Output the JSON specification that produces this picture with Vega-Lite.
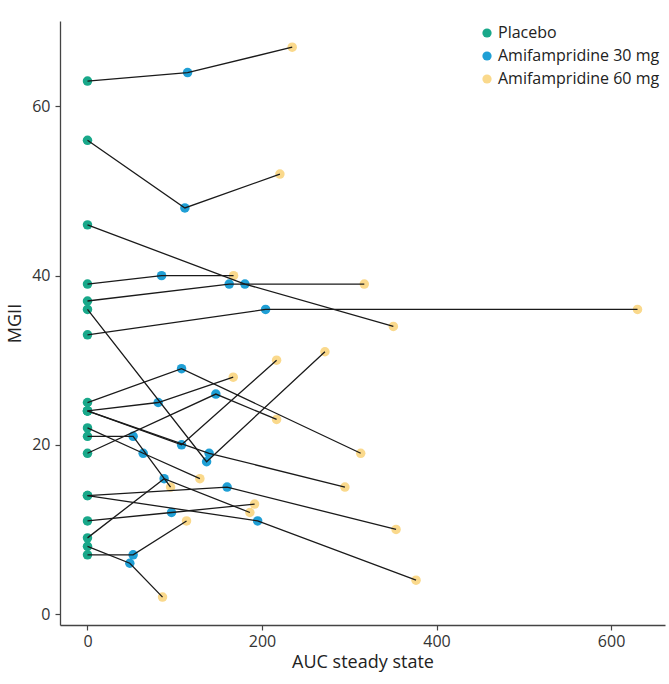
{
  "$schema": "https://vega.github.io/schema/vega-lite/v6.json",
  "width": 605,
  "height": 604,
  "autosize": {"type": "none"},
  "padding": {"left": 60, "top": 21, "right": 4, "bottom": 59},
  "background": "white",
  "config": {
    "view": {"stroke": null},
    "font": "Open Sans",
    "axis": {
      "domainColor": "#444",
      "domainWidth": 1.3,
      "tickColor": "#444",
      "tickSize": 5,
      "tickWidth": 1.2,
      "labelColor": "#333",
      "labelFontSize": 16,
      "labelFont": "Open Sans",
      "titleFont": "Open Sans",
      "titleFontSize": 18,
      "titleFontWeight": "normal",
      "titleColor": "#222",
      "grid": false
    }
  },
  "data": {
    "values": [
      {"patient": "A", "dose": "Placebo", "ord": 0, "auc": 0, "mgii": 63},
      {"patient": "A", "dose": "Amifampridine 30 mg", "ord": 1, "auc": 114.7, "mgii": 64},
      {"patient": "A", "dose": "Amifampridine 60 mg", "ord": 2, "auc": 234.6, "mgii": 67},
      {"patient": "B", "dose": "Placebo", "ord": 0, "auc": 0, "mgii": 56},
      {"patient": "B", "dose": "Amifampridine 30 mg", "ord": 1, "auc": 111.6, "mgii": 48},
      {"patient": "B", "dose": "Amifampridine 60 mg", "ord": 2, "auc": 220.5, "mgii": 52},
      {"patient": "C", "dose": "Placebo", "ord": 0, "auc": 0, "mgii": 46},
      {"patient": "C", "dose": "Amifampridine 30 mg", "ord": 1, "auc": 180.4, "mgii": 39},
      {"patient": "C", "dose": "Amifampridine 60 mg", "ord": 2, "auc": 350.5, "mgii": 34},
      {"patient": "D", "dose": "Placebo", "ord": 0, "auc": 0, "mgii": 39},
      {"patient": "D", "dose": "Amifampridine 30 mg", "ord": 1, "auc": 84.9, "mgii": 40},
      {"patient": "D", "dose": "Amifampridine 60 mg", "ord": 2, "auc": 167.4, "mgii": 40},
      {"patient": "E", "dose": "Placebo", "ord": 0, "auc": 0, "mgii": 37},
      {"patient": "E", "dose": "Amifampridine 30 mg", "ord": 1, "auc": 162.4, "mgii": 39},
      {"patient": "E", "dose": "Amifampridine 60 mg", "ord": 2, "auc": 317.2, "mgii": 39},
      {"patient": "F", "dose": "Placebo", "ord": 0, "auc": 0, "mgii": 36},
      {"patient": "F", "dose": "Amifampridine 30 mg", "ord": 1, "auc": 136.5, "mgii": 18},
      {"patient": "F", "dose": "Amifampridine 60 mg", "ord": 2, "auc": 272.1, "mgii": 31},
      {"patient": "G", "dose": "Placebo", "ord": 0, "auc": 0, "mgii": 33},
      {"patient": "G", "dose": "Amifampridine 30 mg", "ord": 1, "auc": 204.1, "mgii": 36},
      {"patient": "G", "dose": "Amifampridine 60 mg", "ord": 2, "auc": 630.3, "mgii": 36},
      {"patient": "H", "dose": "Placebo", "ord": 0, "auc": 0, "mgii": 25},
      {"patient": "H", "dose": "Amifampridine 30 mg", "ord": 1, "auc": 107.8, "mgii": 29},
      {"patient": "H", "dose": "Amifampridine 60 mg", "ord": 2, "auc": 313.1, "mgii": 19},
      {"patient": "I", "dose": "Placebo", "ord": 0, "auc": 0, "mgii": 24},
      {"patient": "I", "dose": "Amifampridine 30 mg", "ord": 1, "auc": 81, "mgii": 25},
      {"patient": "I", "dose": "Amifampridine 60 mg", "ord": 2, "auc": 167, "mgii": 28},
      {"patient": "J", "dose": "Placebo", "ord": 0, "auc": 0, "mgii": 19},
      {"patient": "J", "dose": "Amifampridine 30 mg", "ord": 1, "auc": 147.1, "mgii": 26},
      {"patient": "J", "dose": "Amifampridine 60 mg", "ord": 2, "auc": 216.7, "mgii": 23},
      {"patient": "K", "dose": "Placebo", "ord": 0, "auc": 0, "mgii": 24},
      {"patient": "K", "dose": "Amifampridine 30 mg", "ord": 1, "auc": 107.8, "mgii": 20},
      {"patient": "K", "dose": "Amifampridine 60 mg", "ord": 2, "auc": 216.7, "mgii": 30},
      {"patient": "L", "dose": "Placebo", "ord": 0, "auc": 0, "mgii": 24},
      {"patient": "L", "dose": "Amifampridine 30 mg", "ord": 1, "auc": 139.4, "mgii": 19},
      {"patient": "L", "dose": "Amifampridine 60 mg", "ord": 2, "auc": 295, "mgii": 15},
      {"patient": "M", "dose": "Placebo", "ord": 0, "auc": 0, "mgii": 22},
      {"patient": "M", "dose": "Amifampridine 30 mg", "ord": 1, "auc": 63.8, "mgii": 19},
      {"patient": "M", "dose": "Amifampridine 60 mg", "ord": 2, "auc": 128.8, "mgii": 16},
      {"patient": "N", "dose": "Placebo", "ord": 0, "auc": 0, "mgii": 21},
      {"patient": "N", "dose": "Amifampridine 30 mg", "ord": 1, "auc": 52.3, "mgii": 21},
      {"patient": "N", "dose": "Amifampridine 60 mg", "ord": 2, "auc": 95.2, "mgii": 15},
      {"patient": "O", "dose": "Placebo", "ord": 0, "auc": 0, "mgii": 14},
      {"patient": "O", "dose": "Amifampridine 30 mg", "ord": 1, "auc": 160, "mgii": 15},
      {"patient": "O", "dose": "Amifampridine 60 mg", "ord": 2, "auc": 353.6, "mgii": 10},
      {"patient": "P", "dose": "Placebo", "ord": 0, "auc": 0, "mgii": 14},
      {"patient": "P", "dose": "Amifampridine 30 mg", "ord": 1, "auc": 195, "mgii": 11},
      {"patient": "P", "dose": "Amifampridine 60 mg", "ord": 2, "auc": 376.5, "mgii": 4},
      {"patient": "Q", "dose": "Placebo", "ord": 0, "auc": 0, "mgii": 11},
      {"patient": "Q", "dose": "Amifampridine 30 mg", "ord": 1, "auc": 96.3, "mgii": 12},
      {"patient": "Q", "dose": "Amifampridine 60 mg", "ord": 2, "auc": 191.5, "mgii": 13},
      {"patient": "R", "dose": "Placebo", "ord": 0, "auc": 0, "mgii": 9},
      {"patient": "R", "dose": "Amifampridine 30 mg", "ord": 1, "auc": 87.8, "mgii": 16},
      {"patient": "R", "dose": "Amifampridine 60 mg", "ord": 2, "auc": 186.1, "mgii": 12},
      {"patient": "S", "dose": "Placebo", "ord": 0, "auc": 0, "mgii": 8},
      {"patient": "S", "dose": "Amifampridine 30 mg", "ord": 1, "auc": 48.5, "mgii": 6},
      {"patient": "S", "dose": "Amifampridine 60 mg", "ord": 2, "auc": 86, "mgii": 2},
      {"patient": "T", "dose": "Placebo", "ord": 0, "auc": 0, "mgii": 7},
      {"patient": "T", "dose": "Amifampridine 30 mg", "ord": 1, "auc": 52.3, "mgii": 7},
      {"patient": "T", "dose": "Amifampridine 60 mg", "ord": 2, "auc": 113.5, "mgii": 11}
    ]
  },
  "encoding": {
    "x": {
      "field": "auc",
      "type": "quantitative",
      "title": "AUC steady state",
      "scale": {"domain": [-31.5, 661.8], "nice": false, "zero": false},
      "axis": {"values": [0, 200, 400, 600], "labelPadding": 3, "titlePadding": 4}
    },
    "y": {
      "field": "mgii",
      "type": "quantitative",
      "title": "MGII",
      "scale": {"domain": [-1.3, 70.1], "nice": false, "zero": false},
      "axis": {"values": [0, 20, 40, 60], "labelPadding": 5, "titlePadding": 7}
    }
  },
  "layer": [
    {
      "mark": {"type": "point", "filled": true, "opacity": 1, "size": 90},
      "encoding": {
        "color": {
          "field": "dose",
          "type": "nominal",
          "scale": {
            "domain": ["Placebo", "Amifampridine 30 mg", "Amifampridine 60 mg"],
            "range": ["#19a88a", "#1f9fd5", "#fad98c"]
          },
          "legend": {
            "title": null,
            "orient": "none",
            "legendX": 419,
            "legendY": 4,
            "symbolType": "circle",
            "symbolSize": 85,
            "symbolStrokeWidth": 0,
            "labelFontSize": 16,
            "labelFont": "Open Sans",
            "labelColor": "#222",
            "labelLimit": 0,
            "rowPadding": 7,
            "labelOffset": 3
          }
        }
      }
    },
    {
      "mark": {"type": "line", "color": "#1a1a1a", "strokeWidth": 1.3},
      "encoding": {
        "detail": {"field": "patient", "type": "nominal"},
        "order": {"field": "ord", "type": "quantitative"}
      }
    }
  ]
}
